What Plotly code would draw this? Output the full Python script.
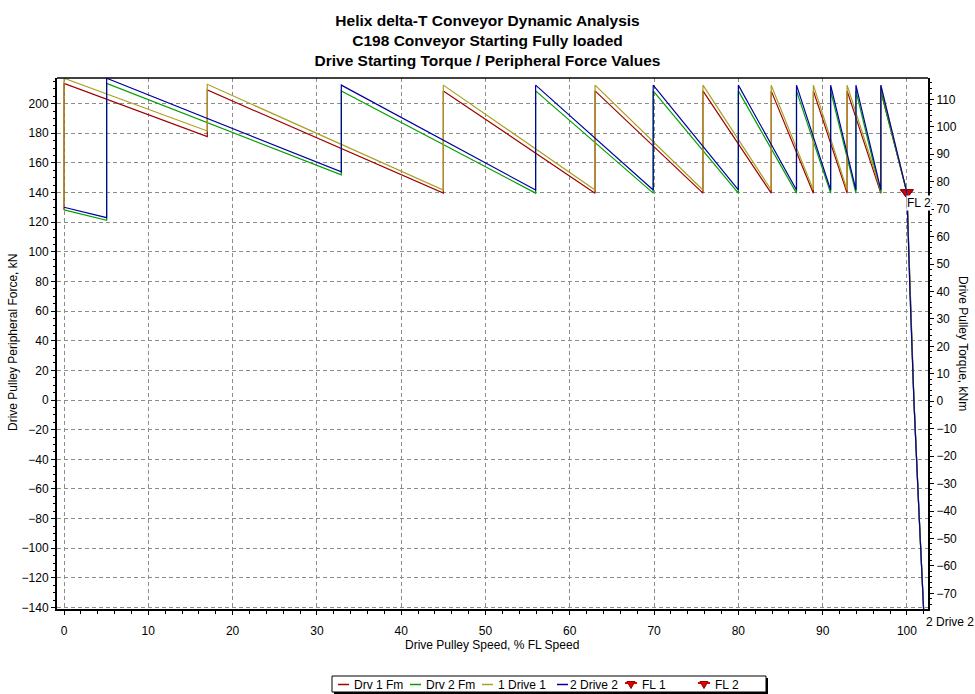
import plotly.graph_objects as go

# ---------------- data ----------------
# Drive 1: speed (% FL speed), peripheral force (kN), torque (kNm)
drv1_speed = [0.0, 0.0, 17.0, 17.0, 45.0, 45.0, 63.0, 63.0, 75.8, 75.8, 83.9, 83.9,
              88.9, 88.9, 92.9, 92.9, 96.9, 96.9, 100.0, 100.36, 100.83, 101.42, 101.86, 101.98]
drv1_force = [128.3, 213.7, 177.8, 209.2, 139.6, 208.6, 139.6, 208.6, 139.6, 208.6, 139.6, 208.6,
              139.6, 208.6, 139.6, 208.6, 139.6, 208.6, 140.0, 74.1, 0.0, -74.1, -129.6, -141.0]
drv1_torque = [70.7, 117.7, 98.5, 115.5, 77.0, 115.2, 77.0, 115.2, 77.0, 115.2, 77.0, 115.2,
               77.0, 115.2, 77.0, 115.2, 77.0, 115.2, 76.0, 40.0, 0.0, -40.0, -70.0, -76.0]

# Drive 2
drv2_speed = [0.0, 5.06, 5.06, 32.9, 32.9, 55.95, 55.95, 69.9, 69.9, 80.0, 80.0, 86.9, 86.9,
              90.95, 90.95, 93.95, 93.95, 96.9, 96.9, 100.0, 100.36, 100.83, 101.42, 101.86, 101.98]
drv2_force = [128.3, 121.3, 213.7, 151.9, 208.6, 139.6, 208.6, 139.6, 208.6, 139.6, 208.6, 139.6, 208.6,
              139.6, 208.6, 139.6, 208.6, 139.6, 208.6, 140.0, 74.1, 0.0, -74.1, -129.6, -141.0]
drv2_torque = [70.7, 66.9, 117.7, 83.6, 115.2, 77.0, 115.2, 77.0, 115.2, 77.0, 115.2, 77.0, 115.2,
               77.0, 115.2, 77.0, 115.2, 77.0, 115.2, 76.0, 40.0, 0.0, -40.0, -70.0, -76.0]

# Full-load points
fl_speed = [100.0]
fl1_force = [140.0]
fl2_force = [140.0]

series_names = ["Drv 1 Fm", "Drv 2 Fm", "1 Drive 1", "2 Drive 2", "FL 1", "FL 2"]
series_colors = ["#A00000", "#00A000", "#A8A020", "#0000A0", "#E00000", "#E00000"]

title_lines = ["Helix delta-T Conveyor Dynamic Analysis",
               "C198 Conveyor Starting Fully loaded",
               "Drive Starting Torque / Peripheral Force Values"]
x_title = "Drive Pulley Speed, % FL Speed"
y_title = "Drive Pulley Peripheral Force, kN"
y2_title = "Drive Pulley Torque, kNm"

# ---------------- layout geometry ----------------
W, H = 975, 694
L, R, T, B = 57, 47, 78, 85
PW, PH = W - L - R, H - T - B
FONT = "Arial, Liberation Sans, sans-serif"


def px(x):
    return (x - L) / PW


def py(y):
    return (H - B - y) / PH


fig = go.Figure()

fig.add_trace(go.Scatter(x=drv1_speed, y=drv1_force, mode="lines", name=series_names[0],
                         line=dict(color=series_colors[0], width=1.2), showlegend=False))
fig.add_trace(go.Scatter(x=drv2_speed, y=drv2_force, mode="lines", name=series_names[1],
                         line=dict(color=series_colors[1], width=1.2), showlegend=False))
fig.add_trace(go.Scatter(x=drv1_speed, y=drv1_torque, mode="lines", name=series_names[2], yaxis="y2",
                         line=dict(color=series_colors[2], width=1.2), showlegend=False))
fig.add_trace(go.Scatter(x=drv2_speed, y=drv2_torque, mode="lines", name=series_names[3], yaxis="y2",
                         line=dict(color=series_colors[3], width=1.2), showlegend=False))
fig.add_trace(go.Scatter(x=fl_speed, y=fl1_force, mode="markers", name=series_names[4],
                         marker=dict(symbol="triangle-down", size=11, color=series_colors[4],
                                     line=dict(color="#800000", width=1)), showlegend=False, cliponaxis=False))
fig.add_trace(go.Scatter(x=fl_speed, y=fl2_force, mode="markers", name=series_names[5],
                         marker=dict(symbol="triangle-down", size=11, color=series_colors[5],
                                     line=dict(color="#800000", width=1)), showlegend=False, cliponaxis=False))

grid = dict(showgrid=True, gridcolor="#8c8c8c", gridwidth=1, griddash="4px,3px")

fig.update_layout(
    width=W, height=H,
    margin=dict(l=L, r=R, t=T, b=B),
    paper_bgcolor="white", plot_bgcolor="white",
    font=dict(family=FONT, size=12, color="black"),
    showlegend=False,
    title=dict(text="<br>".join(title_lines), x=0.5, xanchor="center",
               y=1 - 26 / H, yanchor="middle", yref="container",
               font=dict(family=FONT, size=15.5, color="black", weight="bold")),
    xaxis=dict(range=[-0.83, 102.5], dtick=10, tick0=0, zeroline=False,
               showline=True, linecolor="black", linewidth=2,
               ticks="outside", ticklen=4, tickcolor="black", ticklabelstandoff=6,
               minor=dict(dtick=2, ticks="outside", ticklen=3, tickcolor="black", showgrid=False),
               tickfont=dict(size=12), **grid),
    yaxis=dict(range=[-141.0, 217.3], dtick=20, tick0=0, zeroline=False,
               showline=True, linecolor="black", linewidth=2,
               ticks="outside", ticklen=4, tickcolor="black",
               minor=dict(dtick=5, ticks="outside", ticklen=2, tickcolor="black", showgrid=False),
               tickfont=dict(size=12), **grid),
    yaxis2=dict(range=[-75.7, 117.8], dtick=10, tick0=0, overlaying="y", side="right",
                showgrid=False, zeroline=False,
                showline=True, linecolor="black", linewidth=2,
                ticks="outside", ticklen=4, tickcolor="black",
                minor=dict(dtick=2, ticks="outside", ticklen=2, tickcolor="black"),
                tickfont=dict(size=12)),
)

shapes = []
annotations = []

# top frame line
shapes.append(dict(type="line", xref="paper", yref="paper", x0=0, x1=1, y0=1, y1=1,
                   line=dict(color="black", width=1.5)))

# axis titles
annotations.append(dict(text=x_title, xref="paper", yref="paper", x=px(492), y=py(645),
                        xanchor="center", yanchor="middle", showarrow=False, font=dict(size=12)))
annotations.append(dict(text=y_title, xref="paper", yref="paper", x=px(13), y=py(343),
                        xanchor="center", yanchor="middle", textangle=-90, showarrow=False,
                        font=dict(size=12)))
annotations.append(dict(text=y2_title, xref="paper", yref="paper", x=px(963), y=py(343),
                        xanchor="center", yanchor="middle", textangle=90, showarrow=False,
                        font=dict(size=12)))

# end-of-series labels
annotations.append(dict(text=series_names[5], x=fl_speed[0], y=fl2_force[0], xref="x", yref="y",
                        xanchor="left", yanchor="middle", yshift=-10, xshift=-1, showarrow=False,
                        bgcolor="white", borderpad=0, font=dict(size=12)))
annotations.append(dict(text=series_names[3], x=drv2_speed[-1], y=drv2_force[-1], xref="x", yref="y",
                        xanchor="left", yanchor="middle", yshift=-13, xshift=0, showarrow=False,
                        bgcolor="white", borderpad=1, font=dict(size=12)))

# ---------------- legend (drawn box) ----------------
lx0, lx1, ly0, ly1 = 332, 766, 676, 692
shapes.append(dict(type="rect", xref="paper", yref="paper", x0=px(lx0 + 2), x1=px(lx1 + 2),
                   y0=py(ly1 + 2), y1=py(ly0 + 2), fillcolor="black", line=dict(width=0)))
shapes.append(dict(type="rect", xref="paper", yref="paper", x0=px(lx0), x1=px(lx1),
                   y0=py(ly1), y1=py(ly0), fillcolor="white", line=dict(color="black", width=1)))
ly = 684.5
sample_x = [338, 410, 482, 557, 625, 698]
text_x = [352, 424, 496, 568, 640, 713]
for i, name in enumerate(series_names):
    c = series_colors[i]
    x0 = sample_x[i]
    if i < 4:
        shapes.append(dict(type="line", xref="paper", yref="paper", x0=px(x0), x1=px(x0 + 11),
                           y0=py(ly), y1=py(ly), line=dict(color=c, width=1.5)))
    else:
        shapes.append(dict(type="line", xref="paper", yref="paper", x0=px(x0), x1=px(x0 + 12),
                           y0=py(ly - 1.5), y1=py(ly - 1.5), line=dict(color=c, width=2)))
        path = "M {:.5f},{:.5f} L {:.5f},{:.5f} L {:.5f},{:.5f} Z".format(
            px(x0 + 2), py(ly - 3), px(x0 + 10), py(ly - 3), px(x0 + 6), py(ly + 4))
        shapes.append(dict(type="path", xref="paper", yref="paper", path=path,
                           fillcolor=c, line=dict(color="#900000", width=1)))
    annotations.append(dict(text=name, xref="paper", yref="paper", x=px(text_x[i]), y=py(ly),
                            xanchor="left", yanchor="middle", showarrow=False, font=dict(size=12)))

fig.update_layout(shapes=shapes, annotations=annotations)

fig.write_html("out.html")
